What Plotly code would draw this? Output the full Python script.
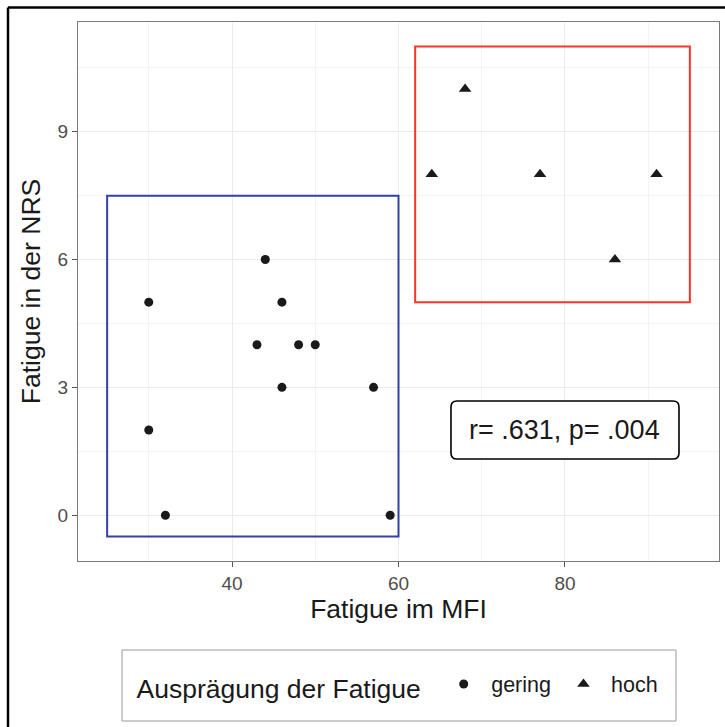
import plotly.graph_objects as go

# Data
gering_x = [30, 44, 46, 43, 48, 50, 46, 57, 30, 32, 59]
gering_y = [5, 6, 5, 4, 4, 4, 3, 3, 2, 0, 0]
hoch_x = [68, 64, 77, 91, 86]
hoch_y = [10, 8, 8, 8, 6]

blue_box = dict(x0=25, x1=60, y0=-0.5, y1=7.5)
red_box = dict(x0=62, x1=95, y0=5, y1=11)
label_pos = (80, 2)
label_text = "r= .631, p= .004"

x_range = [21.5, 98.5]
y_range = [-1.075, 11.575]

W, H = 725, 727
ML, MR, MT, MB = 78, 6, 22, 166
PW = W - ML - MR
PH = H - MT - MB

def px_to_paper_x(px):
    return (px - ML) / PW

def px_to_paper_y(py):
    return (H - MB - py) / PH

FONT = "Liberation Sans, Arial, Helvetica, sans-serif"

fig = go.Figure()
fig.add_trace(go.Scatter(x=gering_x, y=gering_y, mode="markers", name="gering",
                         marker=dict(symbol="circle", size=9, color="#1a1a1a")))
fig.add_trace(go.Scatter(x=hoch_x, y=hoch_y, mode="markers", name="hoch",
                         marker=dict(symbol="triangle-up", size=11, color="#1a1a1a")))

shapes = []
shapes.append(dict(type="rect", xref="x", yref="y", **blue_box,
                   line=dict(color="#3340a8", width=2), layer="above"))
shapes.append(dict(type="rect", xref="x", yref="y", **red_box,
                   line=dict(color="#ff3326", width=2), layer="above"))

# rounded label box in pixel size anchored at the label position
bw, bh, r = 228, 58, 6
hw, hh = bw / 2, bh / 2
path = (f"M {-hw + r},{-hh} L {hw - r},{-hh} Q {hw},{-hh} {hw},{-hh + r} "
        f"L {hw},{hh - r} Q {hw},{hh} {hw - r},{hh} L {-hw + r},{hh} "
        f"Q {-hw},{hh} {-hw},{hh - r} L {-hw},{-hh + r} Q {-hw},{-hh} {-hw + r},{-hh} Z")
shapes.append(dict(type="path", xref="x", yref="y", xsizemode="pixel", ysizemode="pixel",
                   xanchor=label_pos[0], yanchor=label_pos[1], path=path,
                   line=dict(color="black", width=1.6), fillcolor="white", layer="above"))

# outer frame (top and left)
shapes.append(dict(type="line", xref="paper", yref="paper",
                   x0=px_to_paper_x(8), x1=px_to_paper_x(725), y0=px_to_paper_y(7.5), y1=px_to_paper_y(7.5),
                   line=dict(color="black", width=2.5)))
shapes.append(dict(type="line", xref="paper", yref="paper",
                   x0=px_to_paper_x(8), x1=px_to_paper_x(8), y0=px_to_paper_y(7.5), y1=px_to_paper_y(727),
                   line=dict(color="black", width=2.5)))

# legend frame
shapes.append(dict(type="rect", xref="paper", yref="paper",
                   x0=px_to_paper_x(122), x1=px_to_paper_x(676), y0=px_to_paper_y(650), y1=px_to_paper_y(721),
                   line=dict(color="#9a9a9a", width=1), fillcolor="rgba(0,0,0,0)"))

fig.update_layout(
    width=W, height=H,
    margin=dict(l=ML, r=MR, t=MT, b=MB, pad=0),
    paper_bgcolor="white", plot_bgcolor="white",
    font=dict(family=FONT, color="black"),
    shapes=shapes,
    annotations=[dict(x=label_pos[0], y=label_pos[1], xref="x", yref="y", text=label_text,
                      showarrow=False, font=dict(size=27, color="#1a1a1a", family=FONT),
                      xanchor="center", yanchor="middle")],
    showlegend=True,
    legend=dict(orientation="h", x=px_to_paper_x(399), xanchor="center",
                y=px_to_paper_y(686), yanchor="middle",
                borderwidth=0, bgcolor="rgba(0,0,0,0)",
                title=dict(text="Ausprägung der Fatigue ", font=dict(size=26.5, color="#1a1a1a"), side="left"),
                font=dict(size=21.5, color="#1a1a1a"),
                itemwidth=45, itemsizing="trace", tracegroupgap=0),
)

axis_common = dict(showgrid=True, gridcolor="#ebebeb", gridwidth=1.2,
                   zeroline=False, showline=True, mirror=True, linecolor="#7a7a7a", linewidth=1.3,
                   ticks="outside", ticklen=5, tickcolor="#555555", tickwidth=1.2,
                   tickfont=dict(size=19, color="#4d4d4d", family=FONT))

fig.update_xaxes(range=x_range, tick0=0, dtick=20,
                 minor=dict(showgrid=True, dtick=10, gridcolor="#f3f3f3", gridwidth=0.8),
                 title=dict(text="Fatigue im MFI", font=dict(size=26.5, color="#1a1a1a"), standoff=5),
                 **axis_common)
fig.update_yaxes(range=y_range, tick0=0, dtick=3,
                 minor=dict(showgrid=True, dtick=1.5, gridcolor="#f3f3f3", gridwidth=0.8),
                 title=dict(text="Fatigue in der NRS", font=dict(size=26.5, color="#1a1a1a"), standoff=9),
                 **axis_common)

fig.write_html("out.html")
